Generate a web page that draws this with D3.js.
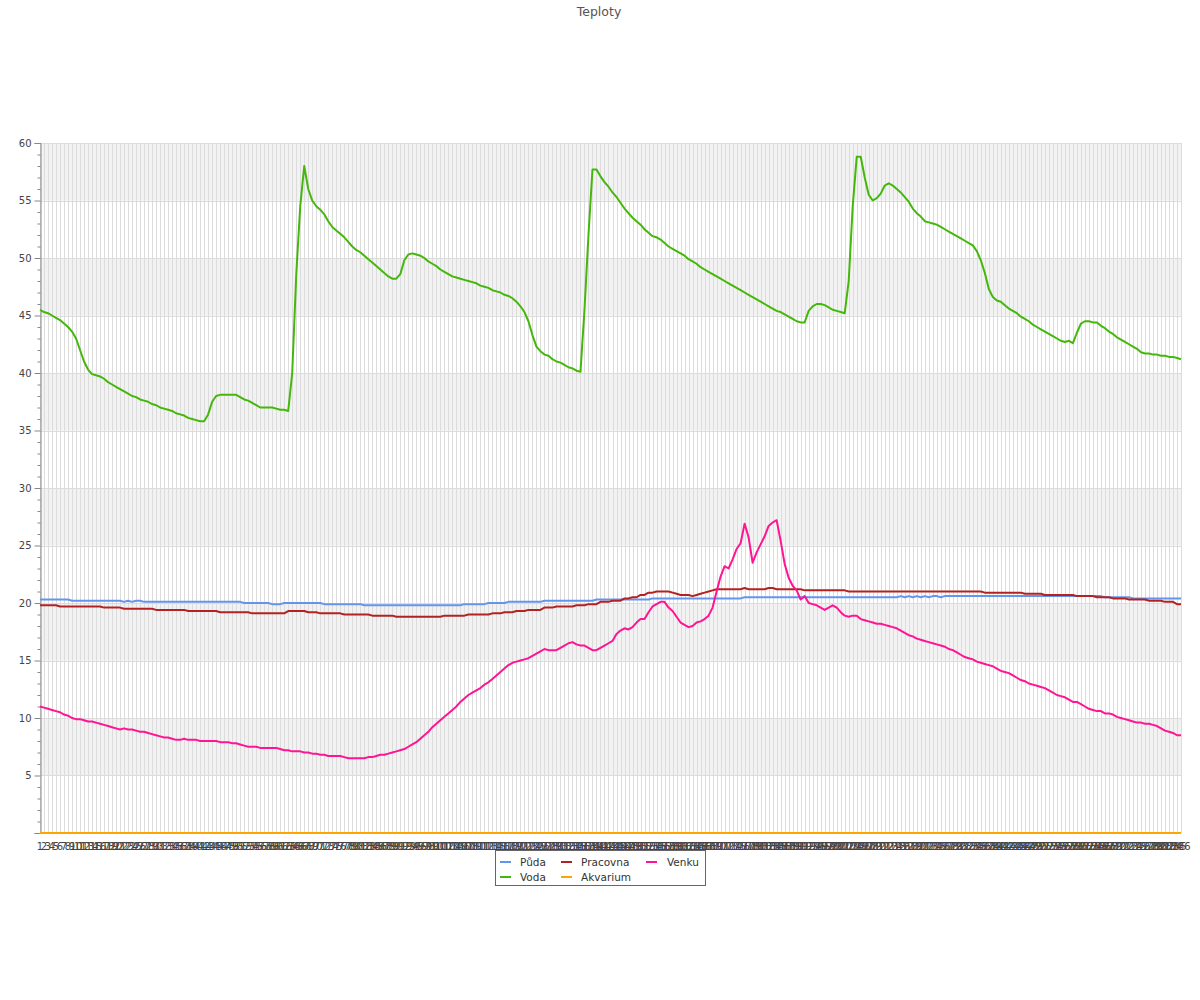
<!DOCTYPE html>
<html><head><meta charset="utf-8">
<script src="https://cdn.jsdelivr.net/npm/d3@7"></script>
<style>body{margin:0;background:#fff;} svg{display:block;font-family:"DejaVu Sans",sans-serif;}</style>
</head><body><svg id="c" width="1200" height="1000"></svg>
<script>
const categories = d3.range(1, 287).map(String);

const puda = [
20.3,20.3,20.3,20.3,20.3,20.3,20.3,20.3,20.2,20.2,
20.2,20.2,20.2,20.2,20.2,20.2,20.2,20.2,20.2,20.2,
20.2,20.1,20.2,20.1,20.2,20.2,20.1,20.1,20.1,20.1,
20.1,20.1,20.1,20.1,20.1,20.1,20.1,20.1,20.1,20.1,
20.1,20.1,20.1,20.1,20.1,20.1,20.1,20.1,20.1,20.1,
20.1,20.0,20.0,20.0,20.0,20.0,20.0,20.0,19.9,19.9,
19.9,20.0,20.0,20.0,20.0,20.0,20.0,20.0,20.0,20.0,
20.0,19.9,19.9,19.9,19.9,19.9,19.9,19.9,19.9,19.9,
19.9,19.8,19.8,19.8,19.8,19.8,19.8,19.8,19.8,19.8,
19.8,19.8,19.8,19.8,19.8,19.8,19.8,19.8,19.8,19.8,
19.8,19.8,19.8,19.8,19.8,19.8,19.9,19.9,19.9,19.9,
19.9,19.9,20.0,20.0,20.0,20.0,20.0,20.1,20.1,20.1,
20.1,20.1,20.1,20.1,20.1,20.1,20.2,20.2,20.2,20.2,
20.2,20.2,20.2,20.2,20.2,20.2,20.2,20.2,20.2,20.3,
20.3,20.3,20.3,20.3,20.3,20.3,20.3,20.3,20.3,20.3,
20.3,20.3,20.3,20.4,20.4,20.4,20.4,20.4,20.4,20.4,
20.4,20.4,20.4,20.4,20.4,20.4,20.4,20.4,20.4,20.4,
20.4,20.4,20.4,20.4,20.4,20.4,20.5,20.5,20.5,20.5,
20.5,20.5,20.5,20.5,20.5,20.5,20.5,20.5,20.5,20.5,
20.5,20.5,20.5,20.5,20.5,20.5,20.5,20.5,20.5,20.5,
20.5,20.5,20.5,20.5,20.5,20.5,20.5,20.5,20.5,20.5,
20.5,20.5,20.5,20.5,20.5,20.6,20.5,20.6,20.5,20.6,
20.5,20.6,20.5,20.6,20.6,20.5,20.6,20.6,20.6,20.6,
20.6,20.6,20.6,20.6,20.6,20.6,20.6,20.6,20.6,20.6,
20.6,20.6,20.6,20.6,20.6,20.6,20.6,20.6,20.6,20.6,
20.6,20.6,20.6,20.6,20.6,20.6,20.6,20.6,20.6,20.6,
20.6,20.6,20.6,20.6,20.6,20.6,20.5,20.5,20.5,20.5,
20.5,20.5,20.5,20.4,20.4,20.4,20.4,20.4,20.4,20.4,
20.4,20.4,20.4,20.4,20.4,20.4];

const voda = [
45.5,45.3,45.2,45.0,44.8,44.6,44.3,44.0,43.6,43.0,
42.0,41.0,40.3,39.9,39.8,39.7,39.5,39.2,39.0,38.8,
38.6,38.4,38.2,38.0,37.9,37.7,37.6,37.5,37.3,37.2,
37.0,36.9,36.8,36.7,36.5,36.4,36.3,36.1,36.0,35.9,
35.8,35.8,36.4,37.5,38.0,38.1,38.1,38.1,38.1,38.1,
37.9,37.7,37.6,37.4,37.2,37.0,37.0,37.0,37.0,36.9,
36.8,36.8,36.7,40.0,48.5,54.5,58.0,56.0,55.0,54.5,
54.2,53.8,53.2,52.7,52.4,52.1,51.8,51.4,51.0,50.7,
50.5,50.2,49.9,49.6,49.3,49.0,48.7,48.4,48.2,48.2,
48.6,49.8,50.3,50.4,50.3,50.2,50.0,49.7,49.5,49.3,
49.0,48.8,48.6,48.4,48.3,48.2,48.1,48.0,47.9,47.8,
47.6,47.5,47.4,47.2,47.1,47.0,46.8,46.7,46.5,46.2,
45.8,45.3,44.5,43.3,42.3,41.9,41.6,41.5,41.2,41.0,
40.9,40.7,40.5,40.4,40.2,40.1,45.5,52.0,57.7,57.7,
57.1,56.6,56.2,55.7,55.3,54.8,54.3,53.9,53.5,53.2,
52.9,52.5,52.2,51.9,51.8,51.6,51.3,51.0,50.8,50.6,
50.4,50.2,49.9,49.7,49.5,49.2,49.0,48.8,48.6,48.4,
48.2,48.0,47.8,47.6,47.4,47.2,47.0,46.8,46.6,46.4,
46.2,46.0,45.8,45.6,45.4,45.3,45.1,44.9,44.7,44.5,
44.4,44.4,45.4,45.8,46.0,46.0,45.9,45.7,45.5,45.4,
45.3,45.2,48.0,54.5,58.8,58.8,57.0,55.5,55.0,55.2,
55.6,56.3,56.5,56.3,56.0,55.7,55.3,54.9,54.3,53.9,
53.6,53.2,53.1,53.0,52.9,52.7,52.5,52.3,52.1,51.9,
51.7,51.5,51.3,51.1,50.6,49.8,48.7,47.3,46.6,46.3,
46.2,45.9,45.6,45.4,45.2,44.9,44.7,44.5,44.2,44.0,
43.8,43.6,43.4,43.2,43.0,42.8,42.7,42.8,42.6,43.5,
44.3,44.5,44.5,44.4,44.4,44.1,43.9,43.6,43.4,43.1,
42.9,42.7,42.5,42.3,42.1,41.8,41.7,41.7,41.6,41.6,
41.5,41.5,41.4,41.4,41.3,41.2];

const pracovna = [
19.8,19.8,19.8,19.8,19.8,19.7,19.7,19.7,19.7,19.7,
19.7,19.7,19.7,19.7,19.7,19.7,19.6,19.6,19.6,19.6,
19.6,19.5,19.5,19.5,19.5,19.5,19.5,19.5,19.5,19.4,
19.4,19.4,19.4,19.4,19.4,19.4,19.4,19.3,19.3,19.3,
19.3,19.3,19.3,19.3,19.3,19.2,19.2,19.2,19.2,19.2,
19.2,19.2,19.2,19.1,19.1,19.1,19.1,19.1,19.1,19.1,
19.1,19.1,19.3,19.3,19.3,19.3,19.3,19.2,19.2,19.2,
19.1,19.1,19.1,19.1,19.1,19.1,19.0,19.0,19.0,19.0,
19.0,19.0,19.0,18.9,18.9,18.9,18.9,18.9,18.9,18.8,
18.8,18.8,18.8,18.8,18.8,18.8,18.8,18.8,18.8,18.8,
18.8,18.9,18.9,18.9,18.9,18.9,18.9,19.0,19.0,19.0,
19.0,19.0,19.0,19.1,19.1,19.1,19.2,19.2,19.2,19.3,
19.3,19.3,19.4,19.4,19.4,19.4,19.6,19.6,19.6,19.7,
19.7,19.7,19.7,19.7,19.8,19.8,19.8,19.9,19.9,19.9,
20.1,20.1,20.1,20.2,20.2,20.2,20.4,20.4,20.5,20.5,
20.7,20.7,20.9,20.9,21.0,21.0,21.0,21.0,20.9,20.8,
20.7,20.7,20.7,20.6,20.7,20.8,20.9,21.0,21.1,21.2,
21.2,21.2,21.2,21.2,21.2,21.2,21.3,21.2,21.2,21.2,
21.2,21.2,21.3,21.3,21.2,21.2,21.2,21.2,21.2,21.2,
21.2,21.1,21.1,21.1,21.1,21.1,21.1,21.1,21.1,21.1,
21.1,21.1,21.0,21.0,21.0,21.0,21.0,21.0,21.0,21.0,
21.0,21.0,21.0,21.0,21.0,21.0,21.0,21.0,21.0,21.0,
21.0,21.0,21.0,21.0,21.0,21.0,21.0,21.0,21.0,21.0,
21.0,21.0,21.0,21.0,21.0,21.0,20.9,20.9,20.9,20.9,
20.9,20.9,20.9,20.9,20.9,20.9,20.8,20.8,20.8,20.8,
20.8,20.7,20.7,20.7,20.7,20.7,20.7,20.7,20.7,20.6,
20.6,20.6,20.6,20.6,20.5,20.5,20.5,20.5,20.4,20.4,
20.4,20.4,20.3,20.3,20.3,20.3,20.3,20.2,20.2,20.2,
20.2,20.1,20.1,20.1,19.9,19.9];

const akvarium = [
0,0,0,0,0,0,0,0,0,0, 0,0,0,0,0,0,0,0,0,0, 0,0,0,0,0,0,0,0,0,0,
0,0,0,0,0,0,0,0,0,0, 0,0,0,0,0,0,0,0,0,0, 0,0,0,0,0,0,0,0,0,0,
0,0,0,0,0,0,0,0,0,0, 0,0,0,0,0,0,0,0,0,0, 0,0,0,0,0,0,0,0,0,0,
0,0,0,0,0,0,0,0,0,0, 0,0,0,0,0,0,0,0,0,0, 0,0,0,0,0,0,0,0,0,0,
0,0,0,0,0,0,0,0,0,0, 0,0,0,0,0,0,0,0,0,0, 0,0,0,0,0,0,0,0,0,0,
0,0,0,0,0,0,0,0,0,0, 0,0,0,0,0,0,0,0,0,0, 0,0,0,0,0,0,0,0,0,0,
0,0,0,0,0,0,0,0,0,0, 0,0,0,0,0,0,0,0,0,0, 0,0,0,0,0,0,0,0,0,0,
0,0,0,0,0,0,0,0,0,0, 0,0,0,0,0,0,0,0,0,0, 0,0,0,0,0,0,0,0,0,0,
0,0,0,0,0,0,0,0,0,0, 0,0,0,0,0,0,0,0,0,0, 0,0,0,0,0,0,0,0,0,0,
0,0,0,0,0,0,0,0,0,0, 0,0,0,0,0,0];

const venku = [
11.0,10.9,10.8,10.7,10.6,10.5,10.3,10.2,10.0,9.9,
9.9,9.8,9.7,9.7,9.6,9.5,9.4,9.3,9.2,9.1,
9.0,9.1,9.0,9.0,8.9,8.8,8.8,8.7,8.6,8.5,
8.4,8.3,8.3,8.2,8.1,8.1,8.2,8.1,8.1,8.1,
8.0,8.0,8.0,8.0,8.0,7.9,7.9,7.9,7.8,7.8,
7.7,7.6,7.5,7.5,7.5,7.4,7.4,7.4,7.4,7.4,
7.3,7.2,7.2,7.1,7.1,7.1,7.0,7.0,6.9,6.9,
6.8,6.8,6.7,6.7,6.7,6.7,6.6,6.5,6.5,6.5,
6.5,6.5,6.6,6.6,6.7,6.8,6.8,6.9,7.0,7.1,
7.2,7.3,7.5,7.7,7.9,8.2,8.5,8.8,9.2,9.5,
9.8,10.1,10.4,10.7,11.0,11.4,11.7,12.0,12.2,12.4,
12.6,12.9,13.1,13.4,13.7,14.0,14.3,14.6,14.8,14.9,
15.0,15.1,15.2,15.4,15.6,15.8,16.0,15.9,15.9,15.9,
16.1,16.3,16.5,16.6,16.4,16.3,16.3,16.1,15.9,15.9,
16.1,16.3,16.5,16.7,17.3,17.6,17.8,17.7,17.9,18.3,
18.6,18.6,19.2,19.7,19.9,20.1,20.1,19.6,19.3,18.8,
18.3,18.1,17.9,18.0,18.3,18.4,18.6,18.9,19.6,21.0,
22.3,23.2,23.0,23.8,24.7,25.2,26.9,25.7,23.5,24.4,
25.1,25.8,26.7,27.0,27.2,25.4,23.4,22.2,21.5,21.1,
20.3,20.6,20.0,19.9,19.8,19.6,19.4,19.6,19.8,19.6,
19.2,18.9,18.8,18.9,18.9,18.6,18.5,18.4,18.3,18.2,
18.2,18.1,18.0,17.9,17.8,17.6,17.4,17.2,17.1,16.9,
16.8,16.7,16.6,16.5,16.4,16.3,16.2,16.0,15.9,15.7,
15.5,15.3,15.2,15.1,14.9,14.8,14.7,14.6,14.5,14.3,
14.1,14.0,13.9,13.7,13.5,13.3,13.2,13.0,12.9,12.8,
12.7,12.6,12.4,12.2,12.0,11.9,11.8,11.6,11.4,11.4,
11.2,11.0,10.8,10.7,10.6,10.6,10.4,10.4,10.3,10.1,
10.0,9.9,9.8,9.7,9.6,9.6,9.5,9.5,9.4,9.3,
9.1,8.9,8.8,8.7,8.5,8.5];

const seriesNames = ["Půda", "Voda", "Pracovna", "Akvarium", "Venku"];
const seriesColors = ["#6495ED", "#44B80A", "#B22222", "#FFA500", "#FF1493"];
const seriesValues = [puda, voda, pracovna, akvarium, venku];
const yTickValues = [0, 5, 10, 15, 20, 25, 30, 35, 40, 45, 50, 55, 60];
const yMinorValues = d3.range(0, 61, 1);
const title = "Teploty";

const L = 40, R = 1181, T = 143, B = 833;
const svg = d3.select("#c");
const x = d3.scalePoint().domain(categories).range([L, R]);
const y = d3.scaleLinear().domain([0, 60]).range([B, T]);

// title
svg.append("text").attr("x", 599).attr("y", 16).attr("text-anchor", "middle")
  .attr("font-size", 12.5).attr("fill", "#555").text(title);

// bands (alternate, top band shaded)
const bandPairs = d3.pairs(yTickValues).filter((p, i) => i % 2 === 1);
svg.append("g").selectAll("rect").data(bandPairs).join("rect")
  .attr("x", L).attr("width", R - L)
  .attr("y", d => y(d[1])).attr("height", d => y(d[0]) - y(d[1]))
  .attr("fill", "#f2f2f2");

// vertical grid
svg.append("g").selectAll("line").data(categories).join("line")
  .attr("x1", d => Math.round(x(d)) + 0.5).attr("x2", d => Math.round(x(d)) + 0.5)
  .attr("y1", T).attr("y2", B).attr("stroke", "#dcdcdc").attr("stroke-width", 1);

// horizontal grid
svg.append("g").selectAll("line").data(yTickValues).join("line")
  .attr("x1", L).attr("x2", R)
  .attr("y1", d => Math.round(y(d)) + 0.5).attr("y2", d => Math.round(y(d)) + 0.5)
  .attr("stroke", "#dcdcdc").attr("stroke-width", 1);

// y axis
const yAxis = d3.axisLeft(y).tickValues(yTickValues).tickSize(6)
  .tickFormat(d => d === 0 ? "" : d);
const gy = svg.append("g").attr("transform", `translate(${L + 0.5},0)`).call(yAxis);
gy.select(".domain").attr("stroke", "#888");
gy.selectAll(".tick line").attr("stroke", "#888");
gy.selectAll(".tick text").attr("font-size", 10).attr("fill", "#444")
  .attr("font-family", "DejaVu Sans, sans-serif").attr("x", -9);
const yMinor = d3.axisLeft(y).tickValues(yMinorValues.filter(v => v % 5 !== 0)).tickSize(3).tickFormat("");
const gym = svg.append("g").attr("transform", `translate(${L + 0.5},0)`).call(yMinor);
gym.select(".domain").remove();
gym.selectAll(".tick line").attr("stroke", "#888");

// x axis line & labels
svg.append("line").attr("x1", L).attr("x2", R).attr("y1", B + 0.5).attr("y2", B + 0.5).attr("stroke", "#888");
svg.append("g").selectAll("text").data(categories).join("text")
  .attr("x", d => x(d)).attr("y", 850).attr("text-anchor", "middle")
  .attr("font-size", 10).attr("fill", "#444").text(d => d);

// lines
const line = d3.line().x((d, i) => x(categories[i])).y(d => y(d));
svg.append("g").selectAll("path").data(seriesValues).join("path")
  .attr("d", d => line(d)).attr("fill", "none")
  .attr("stroke", (d, i) => seriesColors[i]).attr("stroke-width", 2)
  .attr("stroke-linejoin", "round");

// legend
const lg = svg.append("g");
lg.append("rect").attr("x", 495.5).attr("y", 850.5).attr("width", 210).attr("height", 35)
  .attr("fill", "#fff").attr("stroke", "#666");
const colX = [500, 561, 646];
const rowY = [862, 877];
seriesNames.forEach((name, i) => {
  const col = Math.floor(i / 2), row = i % 2;
  const g = lg.append("g").attr("transform", `translate(${colX[col]},${rowY[row]})`);
  g.append("line").attr("x1", 0).attr("x2", 11).attr("y1", 0).attr("y2", 0)
    .attr("stroke", seriesColors[i]).attr("stroke-width", 2);
  g.append("text").attr("x", col === 2 ? 21 : 20).attr("y", 4).attr("font-size", 10.5)
    .attr("fill", "#333").text(name);
});
</script></body></html>
